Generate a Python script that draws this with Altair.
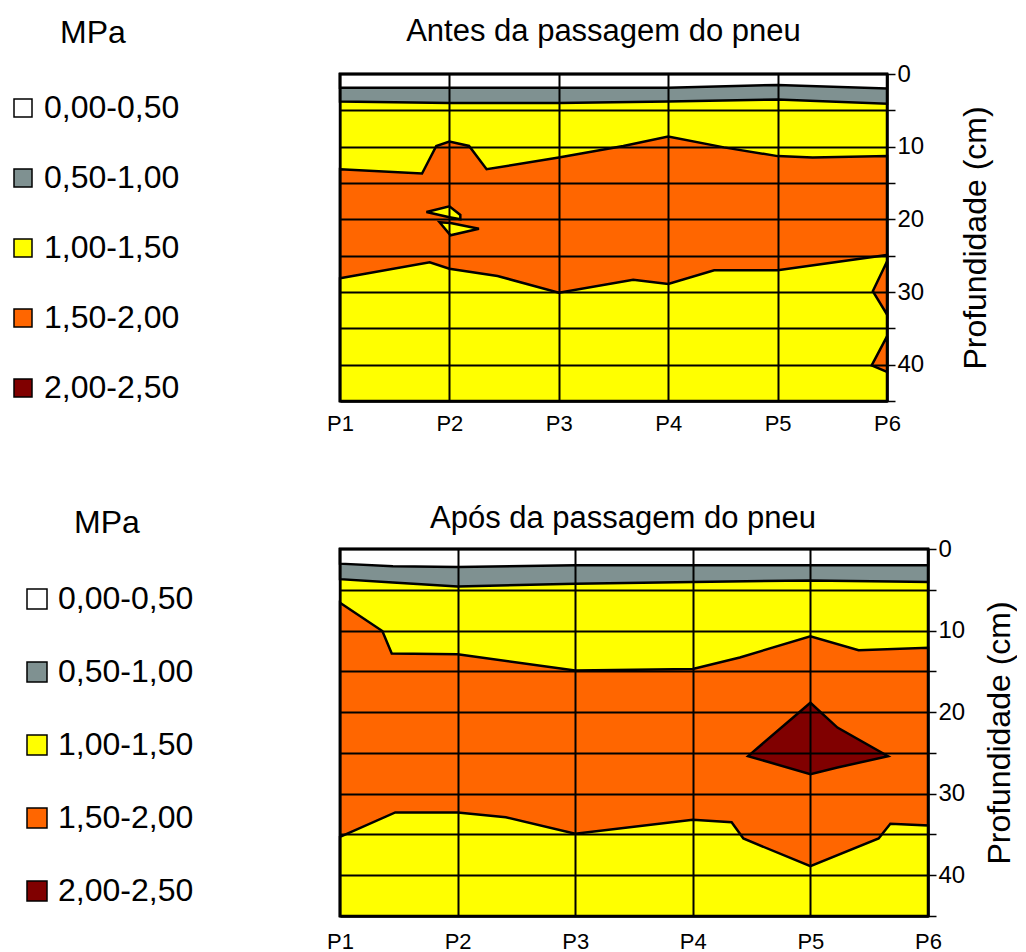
import altair as alt
import pandas as pd

# ---------------- shared categories ----------------
CLASSES = ["0,00-0,50", "0,50-1,00", "1,00-1,50", "1,50-2,00", "2,00-2,50"]
COLORS = ["#FFFFFF", "#7F9191", "#FFFF00", "#FF6600", "#800000"]
POSITIONS = [1, 2, 3, 4, 5, 6]
DEPTH_TICKS = [0, 5, 10, 15, 20, 25, 30, 35, 40, 45]
DEPTH_MAX = 45

# ---------------- Antes da passagem do pneu ----------------
antes_white_x = [1, 2, 3, 4, 5, 6]
antes_white_y = [1.9, 1.9, 1.9, 1.9, 1.5, 2.0]
antes_gray_x = [1, 2, 3, 4, 5, 6]
antes_gray_y = [3.8, 4.0, 4.0, 3.8, 3.5, 4.1]
antes_orange_x = [1, 1.75, 1.88, 2.0, 2.18, 2.34, 3.0, 3.59, 4.0, 4.51, 5.0, 5.32, 6.0]
antes_orange_y = [13.1, 13.7, 9.9, 9.3, 9.9, 13.1, 11.5, 9.9, 8.6, 10.1, 11.3, 11.5, 11.3]
antes_lower_x = [1, 1.82, 2.0, 2.44, 3.0, 3.68, 4.0, 4.42, 5.0, 6.0]
antes_lower_y = [28.1, 25.9, 26.8, 27.8, 30.1, 28.3, 28.9, 27.0, 27.0, 24.9]
# islands: (class, x, top, bottom)
antes_isl1 = ("1,00-1,50", [1.79, 2.0, 2.1], [19.0, 18.2, 19.4], [19.0, 19.7, 20.0])
antes_isl2 = ("1,00-1,50", [1.91, 2.01, 2.27], [20.4, 20.5, 21.3], [20.4, 22.2, 21.3])
antes_isl3 = ("1,50-2,00", [5.87, 6.0], [29.9, 25.8], [29.9, 33.1])
antes_isl4 = ("1,50-2,00", [5.86, 6.0], [40.1, 36.1], [40.1, 41.0])

# ---------------- Após da passagem do pneu ----------------
apos_white_x = [1, 1.45, 2, 3, 4, 5, 6]
apos_white_y = [1.8, 2.1, 2.2, 2.0, 2.0, 2.0, 2.0]
apos_gray_x = [1, 1.45, 2, 3, 4, 5, 5.69, 6]
apos_gray_y = [3.7, 4.1, 4.6, 4.25, 4.05, 3.85, 4.0, 4.05]
apos_orange_x = [1, 1.36, 1.44, 2, 3, 4, 4.40, 5, 5.41, 6]
apos_orange_y = [6.6, 10.05, 12.8, 12.9, 14.9, 14.7, 13.3, 10.7, 12.4, 12.1]
apos_lower_x = [1, 1.47, 2, 2.41, 3, 4, 4.33, 4.43, 5, 5.58, 5.68, 6]
apos_lower_y = [35.3, 32.3, 32.3, 32.9, 34.9, 33.2, 33.5, 35.5, 38.9, 35.5, 33.7, 33.9]
apos_isl1 = ("2,00-2,50", [4.47, 5.0, 5.23, 5.66], [25.4, 18.85, 21.9, 25.4], [25.4, 27.6, 26.8, 25.4])

FONT = "Liberation Sans"
BIG = 31
LEG = 32


def area_df(xs, tops, bots, cls, piece):
    return pd.DataFrame({"x": xs, "y": tops, "y2": bots, "cls": cls, "piece": piece})


def build_layers(white_x, white_y, gray_x, gray_y, orange_x, orange_y, lower_x, lower_y, islands):
    dfs = [
        area_df([1, 6], [0, 0], [DEPTH_MAX, DEPTH_MAX], "1,00-1,50", "base"),
        area_df(gray_x, [0] * len(gray_x), gray_y, "0,50-1,00", "gray"),
        area_df(white_x, [0] * len(white_x), white_y, "0,00-0,50", "white"),
        area_df(orange_x, orange_y, [DEPTH_MAX] * len(orange_x), "1,50-2,00", "orange"),
        area_df(lower_x, lower_y, [DEPTH_MAX] * len(lower_x), "1,00-1,50", "lower"),
    ]
    isl = pd.concat(
        [area_df(x, t, b, c, f"isl{i}") for i, (c, x, t, b) in enumerate(islands)],
        ignore_index=True,
    )
    dfs.append(isl)
    return dfs


def panel(title_text, title_dx, title_offset, layers, width, height, legend, ytitle_pad, xlab_pad):
    xscale = alt.Scale(domain=[1, 6], nice=False, zero=False)
    yscale = alt.Scale(domain=[0, DEPTH_MAX], nice=False, reverse=True)
    xaxis = alt.Axis(
        values=POSITIONS, labelExpr="'P' + datum.value", grid=True, gridColor="black",
        gridWidth=2, ticks=False, domainColor="black", domainWidth=2, labelFontSize=22,
        labelPadding=xlab_pad, labelFlush=False, labelOverlap=False, title=None, zindex=1,
        labelColor="black",
    )
    yaxis = alt.Axis(
        orient="right", values=DEPTH_TICKS,
        labelExpr="datum.value % 10 === 0 ? datum.label : ''",
        grid=True, gridColor="black", gridWidth=2, tickColor="black", tickSize=8,
        tickWidth=1.5, domainColor="black", domainWidth=2, labelFontSize=24,
        labelPadding=2, labelColor="black", title="Profundidade (cm)", titleFontSize=LEG,
        titleFontWeight="normal", titleAngle=270, titlePadding=ytitle_pad,
        titleColor="black", zindex=1,
    )
    color = alt.Color("cls:N", scale=alt.Scale(domain=CLASSES, range=COLORS), legend=legend)
    charts = [
        alt.Chart(df)
        .mark_area(stroke="black", strokeWidth=2.5, interpolate="linear")
        .encode(
            x=alt.X("x:Q", scale=xscale, axis=xaxis),
            y=alt.Y("y:Q", scale=yscale, axis=yaxis),
            y2="y2:Q",
            color=color,
            detail="piece:N",
        )
        for df in layers
    ]
    return alt.layer(*charts).properties(
        width=width,
        height=height,
        title=alt.TitleParams(
            title_text, fontSize=BIG, fontWeight="normal", dx=title_dx,
            offset=title_offset, anchor="middle", color="black",
        ),
    )


def make_legend(lx, ly, size, row_pad, title_pad):
    return alt.Legend(
        orient="none", legendX=lx, legendY=ly, title="MPa", titleFontSize=LEG,
        titleFontWeight="normal", titleAnchor="middle", titlePadding=title_pad,
        titleColor="black", labelFontSize=LEG, labelColor="black", symbolType="square",
        symbolSize=size, symbolStrokeColor="black", symbolStrokeWidth=1.5,
        rowPadding=row_pad, labelOffset=5,
    )


top = panel(
    "Antes da passagem do pneu", -10, -30,
    build_layers(antes_white_x, antes_white_y, antes_gray_x, antes_gray_y,
                 antes_orange_x, antes_orange_y, antes_lower_x, antes_lower_y,
                 [antes_isl1, antes_isl2, antes_isl3, antes_isl4]),
    547, 327, make_legend(-333, -56, 324, 38, 42), 69, 12,
)
bottom = panel(
    "Após da passagem do pneu", -11, -27,
    build_layers(apos_white_x, apos_white_y, apos_gray_x, apos_gray_y,
                 apos_orange_x, apos_orange_y, apos_lower_x, apos_lower_y,
                 [apos_isl1]),
    588, 367, make_legend(-319, -41, 400, 41, 43), 52, 15,
)

chart = (
    alt.vconcat(
        top, bottom, spacing=148, bounds="flush",
        padding={"left": -2, "top": 7, "right": 0, "bottom": 0},
    )
    .resolve_scale(color="independent")
    .configure(font=FONT)
    .configure_view(stroke="black", strokeWidth=2)
)

chart.save("out.html", embed_options={"renderer": "svg", "actions": False})
